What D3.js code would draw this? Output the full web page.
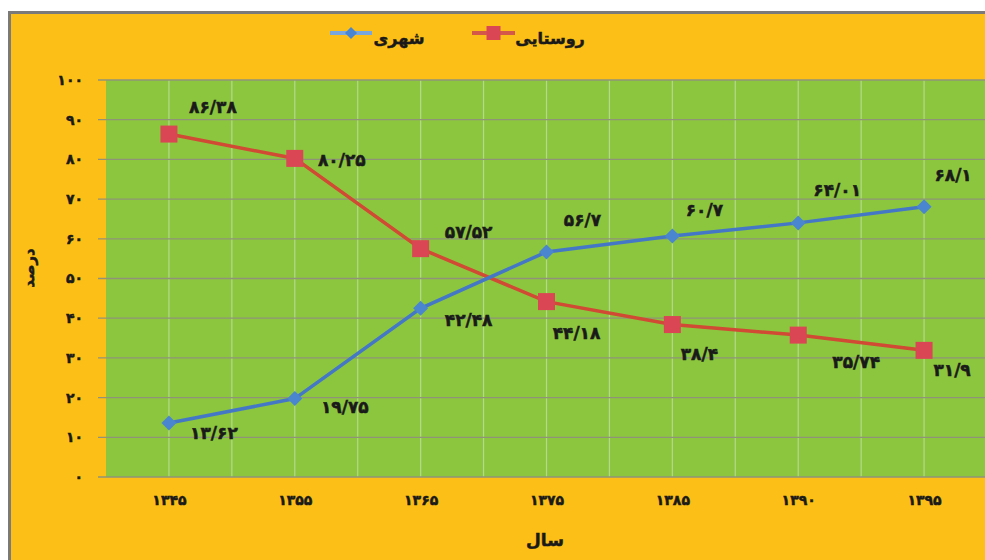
<!DOCTYPE html>
<html><head><meta charset="utf-8">
<script src="https://cdn.jsdelivr.net/npm/d3@7"></script>
<style>
body{margin:0;background:#fff}
text{font-family:"DejaVu Sans",sans-serif;font-weight:bold;fill:#1a1a1a}
</style>
</head><body>
<svg id="c" width="985" height="560"></svg>
<script>
// ---- data ----
const years = ["1345","1355","1365","1375","1385","1390","1395"];
const urban = [13.62,19.75,42.48,56.7,60.7,64.01,68.1];
const rural = [86.38,80.25,57.52,44.18,38.4,35.74,31.9];
const yTicks = [0,10,20,30,40,50,60,70,80,90,100];
const urbanName = "شهری";
const ruralName = "روستایی";
const xTitle = "سال";
const yTitle = "درصد";

// ---- label placement (layout only) ----
const urbanLabelDx = [45,50,48,36,32,39,29];
const urbanLabelDy = [10,8,12,-32,-26,-33,-32];
const ruralLabelDx = [44,47,48,30,27,58,28];
const ruralLabelDy = [-27,2,-17,31,29,27,20];

const fa = s => String(s).replace(/[0-9]/g, d => "۰۱۲۳۴۵۶۷۸۹"[+d]).replace(".", "/");

const svg = d3.select("#c");
const W = 985, H = 560;
const plot = {l:106, r:987, t:80, b:477};

// outer frame
svg.append("rect").attr("x",0).attr("y",0).attr("width",W).attr("height",H).attr("fill","#fff");
svg.append("rect").attr("x",9.5).attr("y",12.5).attr("width",W).attr("height",H)
  .attr("fill","#FCBF17").attr("stroke","#7a7a7a").attr("stroke-width",3);

const x = d3.scalePoint().domain(years).range([plot.l, plot.r]).padding(0.5);
const y = d3.scaleLinear().domain([0,100]).range([plot.b, plot.t]);

// plot area
svg.append("rect").attr("x",plot.l).attr("y",y(100)).attr("width",plot.r-plot.l).attr("height",y(0)-y(100))
  .attr("fill","#8CC63F");

// vertical light gridlines at categories and midpoints
const step = x.step();
const vx = [];
years.forEach(d => { vx.push(x(d) - step/2); vx.push(x(d)); });
vx.push(x(years[years.length-1]) + step/2);
svg.append("g").selectAll("line").data(vx.slice(1)).join("line")
  .attr("x1",d=>d).attr("x2",d=>d).attr("y1",y(100)).attr("y2",y(0))
  .attr("stroke","#b4d98c").attr("stroke-width",1.2);

// horizontal gridlines
svg.append("g").selectAll("line").data(yTicks).join("line")
  .attr("x1",plot.l-8).attr("x2",plot.r).attr("y1",d=>y(d)).attr("y2",d=>y(d))
  .attr("stroke","#8f9478").attr("stroke-width",1.3);

const heavy = sel => sel.attr("stroke","#1a1a1a").attr("stroke-width",0.5).attr("paint-order","stroke");

// y axis labels
const yAxis = d3.axisLeft(y).tickValues(yTicks).tickSize(0).tickPadding(0).tickFormat(d=>fa(d));
const gy = svg.append("g").attr("transform",`translate(83,0)`).call(yAxis);
gy.select(".domain").remove();
gy.selectAll("text").style("font-size","14px").style("letter-spacing","1px").attr("fill","#1a1a1a").call(heavy);

// x axis labels
const xAxis = d3.axisBottom(x).tickSize(0).tickPadding(0).tickFormat(d=>fa(d));
const gx = svg.append("g").attr("transform",`translate(0,495)`).call(xAxis);
gx.select(".domain").remove();
gx.selectAll("text").style("font-size","14px").style("letter-spacing","3px").attr("fill","#1a1a1a").call(heavy);

// axis titles
svg.append("text").attr("x",545).attr("y",546).attr("text-anchor","middle")
  .style("font-size","17px").text(xTitle).call(heavy);
svg.append("text").attr("transform","translate(34,268) rotate(-90)").attr("text-anchor","middle")
  .style("font-size","15px").text(yTitle).call(heavy);

// series
const line = d3.line().x((d,i)=>x(years[i])).y(d=>y(d));
const blueLine = "#4478C6", blueMark = "#4A86D0";
const redLine = "#D04A34", redMark = "#DA4654";

svg.append("path").datum(rural).attr("d",line).attr("fill","none").attr("stroke",redLine).attr("stroke-width",3.5);
svg.append("path").datum(urban).attr("d",line).attr("fill","none").attr("stroke",blueLine).attr("stroke-width",3.5);

const sqS = 17, dmS = 15;
svg.append("g").selectAll("rect").data(rural).join("rect")
  .attr("x",(d,i)=>x(years[i])-sqS/2).attr("y",d=>y(d)-sqS/2).attr("width",sqS).attr("height",sqS)
  .attr("fill",redMark);
svg.append("g").selectAll("path").data(urban).join("path")
  .attr("d",(d,i)=>{const cx=x(years[i]),cy=y(d),h=dmS/2;return `M${cx},${cy-h}L${cx+h},${cy}L${cx},${cy+h}L${cx-h},${cy}Z`;})
  .attr("fill",blueMark);

// data labels
svg.append("g").selectAll("text").data(rural).join("text")
  .attr("x",(d,i)=>x(years[i])+ruralLabelDx[i]).attr("y",(d,i)=>y(d)+ruralLabelDy[i])
  .attr("text-anchor","middle").attr("dominant-baseline","central")
  .style("font-size","17px").style("letter-spacing","1px").text(d=>fa(d)).call(heavy);
svg.append("g").selectAll("text").data(urban).join("text")
  .attr("x",(d,i)=>x(years[i])+urbanLabelDx[i]).attr("y",(d,i)=>y(d)+urbanLabelDy[i])
  .attr("text-anchor","middle").attr("dominant-baseline","central")
  .style("font-size","17px").style("letter-spacing","1px").text(d=>fa(d)).call(heavy);

// legend
const lg = svg.append("g");
function legendItem(x1,x2,ly,color,mark,shape,label,tx){
  lg.append("line").attr("x1",x1).attr("x2",x2).attr("y1",ly).attr("y2",ly).attr("stroke",color).attr("stroke-width",4);
  const cx=(x1+x2)/2;
  if(shape==="sq") lg.append("rect").attr("x",cx-7).attr("y",ly-7).attr("width",14).attr("height",14).attr("fill",mark);
  else lg.append("path").attr("d",`M${cx},${ly-6}L${cx+6},${ly}L${cx},${ly+6}L${cx-6},${ly}Z`).attr("fill",mark);
  lg.append("text").attr("x",tx).attr("y",38).attr("text-anchor","middle").attr("dominant-baseline","central")
    .style("font-size","16px").text(label).call(heavy);
}
legendItem(330,372,33,"#79a6dc",blueMark,"dm",urbanName,399);
legendItem(472,515,33,"#d4584a",redMark,"sq",ruralName,550);
</script>
</body></html>
